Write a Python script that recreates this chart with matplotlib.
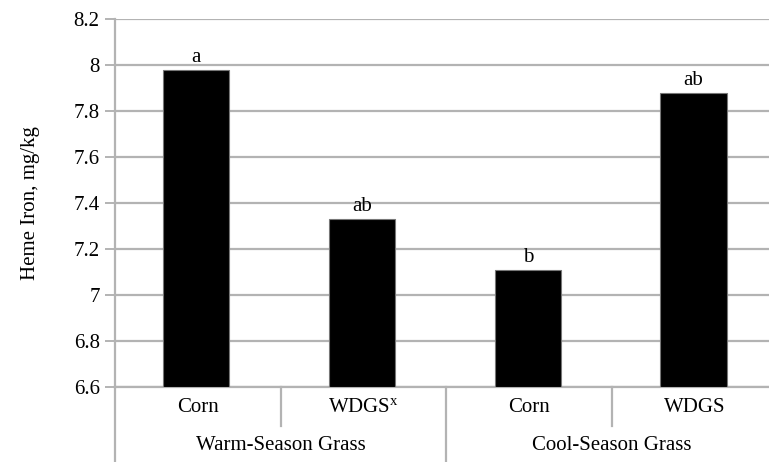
import matplotlib
matplotlib.use("Agg")
import matplotlib.pyplot as plt
from matplotlib.lines import Line2D

plt.rcParams["font.family"] = ["Liberation Serif", "DejaVu Serif"]
plt.rcParams["mathtext.fontset"] = "custom"
plt.rcParams["mathtext.rm"] = "Liberation Serif"
plt.rcParams["mathtext.it"] = "Liberation Serif:italic"

# Data
groups = ["Warm-Season Grass", "Cool-Season Grass"]
treatments = ["Corn", r"WDGS$^{\mathregular{x}}$", "Corn", "WDGS"]
heme_iron = [7.98, 7.33, 7.11, 7.88]
letters = ["a", "ab", "b", "ab"]
y_ticks = [6.6, 6.8, 7.0, 7.2, 7.4, 7.6, 7.8, 8.0, 8.2]
y_tick_labels = ["6.6", "6.8", "7", "7.2", "7.4", "7.6", "7.8", "8", "8.2"]

W, H = 769, 462
fig = plt.figure(figsize=(W / 100, H / 100), dpi=100)
left_px, right_px, top_px, bottom_px = 115, 778, 19, 387
ax = fig.add_axes([left_px / W, (H - bottom_px) / H,
                   (right_px - left_px) / W, (bottom_px - top_px) / H])

grid_c = "#b3b3b3"
fs = 15
serif = "Liberation Serif"
x = list(range(len(heme_iron)))
ymin = y_ticks[0]
ax.bar([xi - 0.01 for xi in x], [v - ymin for v in heme_iron], bottom=ymin, width=0.40,
       color="black", edgecolor="#777777", linewidth=0.8, zorder=3)

for xi, v, lab in zip(x, heme_iron, letters):
    ax.annotate(lab, (xi - 0.01, v), xytext=(0, 2), textcoords="offset points",
                ha="center", va="bottom", fontsize=fs, fontfamily=serif)

ax.set_xlim(-0.5, len(heme_iron) - 0.5)
ax.set_ylim(y_ticks[0], y_ticks[-1])
ax.set_yticks(y_ticks)
ax.set_yticklabels(y_tick_labels, fontsize=fs, fontfamily=serif)
ax.yaxis.grid(True, color=grid_c, linewidth=1.6, zorder=0)
ax.set_axisbelow(True)
ax.tick_params(axis="y", length=7, width=1.4, color=grid_c, pad=4)
ax.set_xticks([])

for side in ["top", "right"]:
    ax.spines[side].set_visible(False)
for side in ["left", "bottom"]:
    ax.spines[side].set_color(grid_c)
    ax.spines[side].set_linewidth(1.6)

ax.set_ylabel("Heme Iron, mg/kg", fontsize=fs, fontfamily=serif, labelpad=24)

# Two-level category axis below the plot
tr = ax.get_xaxis_transform()
py = (bottom_px - top_px)  # axes height in px
def ay(px):
    return -(px - bottom_px) / py

for xi, t in zip(x, treatments):
    ax.text(xi, ay(408), t, transform=tr, ha="center", va="center",
            fontsize=fs, fontfamily=serif)
for gi, g in enumerate(groups):
    ax.text(gi * 2 + 0.5, ay(446), g, transform=tr, ha="center", va="center",
            fontsize=fs, fontfamily=serif)

# Dividers between treatments (short) and groups (long)
for xb in [0.5, 2.5]:
    ax.add_line(Line2D([xb, xb], [0, ay(426)], transform=tr, color=grid_c,
                       linewidth=1.6, clip_on=False))
for xb in [-0.5, 1.5]:
    ax.add_line(Line2D([xb, xb], [0, ay(470)], transform=tr, color=grid_c,
                       linewidth=1.6, clip_on=False))

fig.savefig("out.png", dpi=100)
